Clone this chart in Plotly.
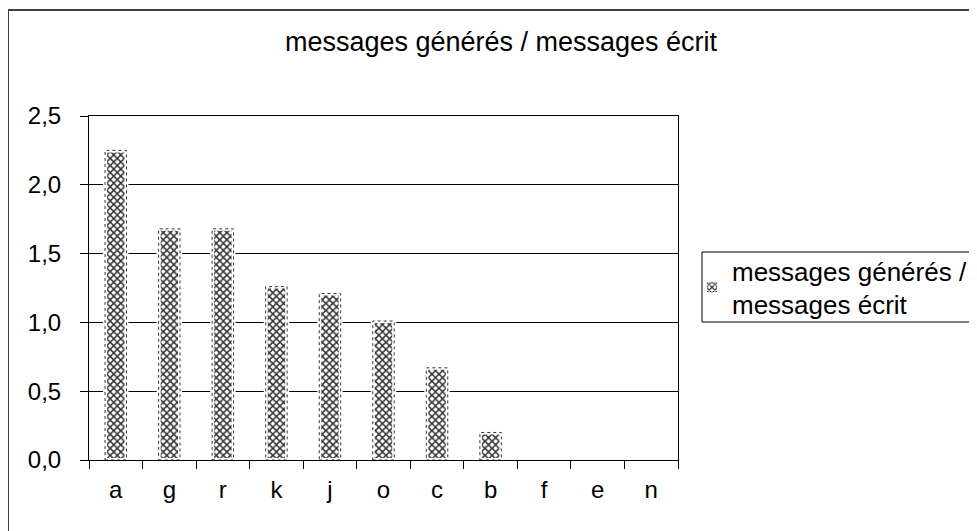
import plotly.graph_objects as go

categories = ["a", "g", "r", "k", "j", "o", "c", "b", "f", "e", "n"]
values = [2.25, 1.68, 1.68, 1.26, 1.21, 1.01, 0.67, 0.2, 0, 0, 0]
series_name = "messages générés /<br>messages écrit"
title_text = "messages générés / messages écrit"
y_ticks = [0, 0.5, 1.0, 1.5, 2.0, 2.5]

FONT = "Liberation Sans, Arial, sans-serif"
BAR_W = 0.4
OFF = 8  # page body margin offset

# plot-area pixel geometry on the page (used for paper-coordinate conversions)
PX_L, PX_R, PX_T, PX_B = 89, 678, 116, 460
PW, PH = PX_R - PX_L, PX_B - PX_T


def px_x(p):
    return (p - PX_L) / PW


def px_y(p):
    return (PX_B - p) / PH


fig = go.Figure()
fig.add_trace(go.Bar(
    x=categories,
    y=values,
    name=series_name,
    width=BAR_W,
    marker=dict(
        color="white",
        line=dict(color="white", width=4),
        pattern=dict(shape="x", fgcolor="#333333", bgcolor="#ffffff",
                     size=5, solidity=0.5, fillmode="replace"),
    ),
    showlegend=True,
))

# dashed outlines of the bars, derived from the data
for i, v in enumerate(values):
    if v > 0:
        fig.add_shape(type="rect", xref="x", yref="y",
                      x0=i - BAR_W / 2, x1=i + BAR_W / 2, y0=0, y1=v,
                      line=dict(color="#333333", width=1, dash="dot"),
                      layer="above")

# outer chart border (extends beyond the cropped picture)
fig.add_shape(type="rect", xref="paper", yref="paper",
              x0=px_x(8), x1=1.6, y0=-0.4, y1=px_y(10),
              line=dict(color="#404040", width=2), layer="below")

# legend frame
fig.add_shape(type="rect", xref="paper", yref="paper",
              x0=px_x(702), x1=px_x(1000), y0=px_y(322), y1=px_y(252),
              line=dict(color="black", width=1), fillcolor="white",
              layer="below")

fig.update_layout(
    width=977, height=531,
    margin=dict(l=PX_L - OFF, r=977 + OFF - PX_R, t=PX_T - OFF,
                b=531 + OFF - PX_B, autoexpand=False),
    paper_bgcolor="white", plot_bgcolor="white",
    separators=",.",
    font=dict(family=FONT, size=24, color="black"),
    title=dict(text=title_text, x=(501 - OFF) / 977, xanchor="center",
               y=1 - (42 - OFF) / 531, yanchor="middle",
               font=dict(family=FONT, size=27, color="black")),
    bargap=0.6,
    showlegend=True,
    legend=dict(x=px_x(692), xanchor="left",
                y=px_y(247), yanchor="top",
                borderwidth=0, bgcolor="rgba(0,0,0,0)",
                font=dict(family=FONT, size=26, color="black"),
                itemsizing="constant", tracegroupgap=0),
)

fig.update_xaxes(
    type="category",
    showline=True, linecolor="black", linewidth=1, mirror=True,
    ticks="outside", ticklen=8, tickcolor="black", tickson="boundaries",
    showgrid=False,
    tickfont=dict(family=FONT, size=24, color="black"),
    ticklabelstandoff=8,
)
fig.update_yaxes(
    range=[0, 2.5], tickvals=y_ticks, tickformat=".1f",
    showline=True, linecolor="black", linewidth=1, mirror=True,
    ticks="outside", ticklen=8, tickcolor="black",
    showgrid=True, gridcolor="black", gridwidth=1,
    zeroline=False,
    tickfont=dict(family=FONT, size=24, color="black"),
    ticklabelstandoff=14,
)

fig.write_html("out.html")
